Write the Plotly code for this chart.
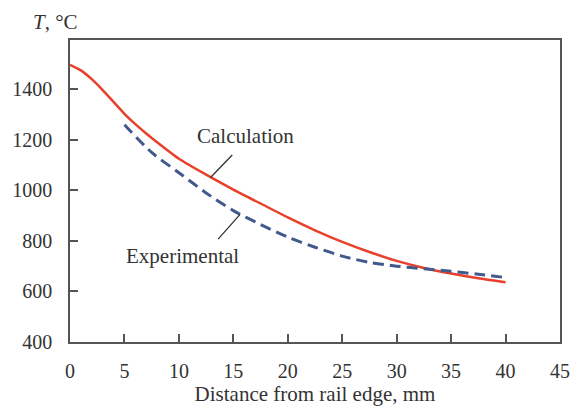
import plotly.graph_objects as go

calc_x = [0, 1, 2, 3, 4, 5, 6, 7, 8, 10, 12.5, 15, 17.5, 20, 22.5, 25, 27.5, 30, 32.5, 35, 37.5, 40]
calc_y = [1497, 1475, 1440, 1397, 1350, 1303, 1262, 1225, 1190, 1125, 1062, 1003, 948, 893, 842, 796, 756, 721, 693, 671, 652, 636]
exp_x = [5, 7.5, 10, 12.5, 15, 17.5, 20, 22.5, 25, 27.5, 30, 32.5, 35, 37.5, 40]
exp_y = [1260, 1150, 1070, 990, 920, 865, 815, 775, 740, 715, 700, 690, 680, 668, 655]
x_ticks = [0, 5, 10, 15, 20, 25, 30, 35, 40, 45]
y_ticks = [400, 600, 800, 1000, 1200, 1400]

serif = "Liberation Serif, Times New Roman, serif"
font = dict(family=serif, size=21, color="#333333")
tick_font = dict(family=serif, size=20, color="#333333")

fig = go.Figure()
fig.add_trace(go.Scatter(x=calc_x, y=calc_y, mode="lines",
                         line=dict(color="#e8402a", width=2.5, shape="spline", smoothing=0.6),
                         name="Calculation", showlegend=False))
fig.add_trace(go.Scatter(x=exp_x, y=exp_y, mode="lines",
                         line=dict(color="#42598c", width=3, dash="11px,6px", shape="spline", smoothing=0.8),
                         name="Experimental", showlegend=False))

fig.add_shape(type="line", x0=14.9, y0=1140, x1=12.9, y1=1051, line=dict(color="#333333", width=1.3))
fig.add_shape(type="line", x0=15.6, y0=904, x1=13.6, y1=807, line=dict(color="#333333", width=1.3))

fig.add_annotation(x=16.1, y=1214, text="Calculation", showarrow=False, font=font)
fig.add_annotation(x=10.3, y=741, text="Experimental", showarrow=False, font=font)
fig.add_annotation(xref="paper", yref="paper", x=-0.03, y=1.058, xanchor="center", yanchor="middle",
                   text="<i>T</i>, °C", showarrow=False, font=font)

axis_common = dict(showline=True, linecolor="#555555", linewidth=1.5, mirror=True, showgrid=False,
                   zeroline=False, ticks="inside", ticklen=8, tickcolor="#555555", tickwidth=1.5,
                   tickfont=tick_font)
fig.update_xaxes(range=[0, 45], tickvals=x_ticks, ticklabelstandoff=10,
                 title=dict(text="Distance from rail edge, mm", font=font, standoff=6),
                 **axis_common)
fig.update_yaxes(range=[400, 1595], tickvals=y_ticks, ticklabelstandoff=12, **axis_common)

fig.update_layout(width=582, height=414, margin=dict(l=69, r=21, t=40, b=66),
                  plot_bgcolor="white", paper_bgcolor="white")
fig.write_html("out.html")
